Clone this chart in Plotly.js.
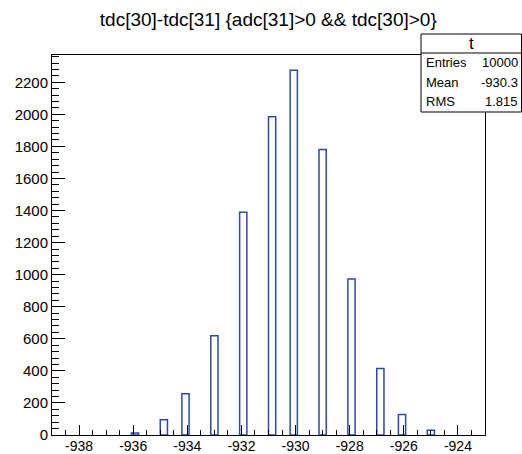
<!DOCTYPE html>
<html><head><meta charset="utf-8">
<script src="https://cdn.plot.ly/plotly-3.0.1.min.js"></script>
<style>html,body{margin:0;padding:0;background:#fff}</style>
</head><body><div id="chart" style="width:522px;height:454px"></div>
<script>
// ---- data ----
const values = [-936, -935, -934, -933, -932, -931, -930, -929, -928, -927, -926, -925];
const counts = [13, 95, 258, 619, 1390, 1985, 2275, 1780, 973, 414, 128, 29];
const xLow = -939, xHigh = -923, nBins = 60;
const xTickVals = [-938, -936, -934, -932, -930, -928, -926, -924];
const xTickText = ['-938', '-936', '-934', '-932', '-930', '-928', '-926', '-924'];
const histName = 't';
const statLabels = ['Entries', 'Mean', 'RMS'];
const statValues = ['10000', '-930.3', '1.815'];
const titleText = 'tdc[30]-tdc[31] {adc[31]>0 && tdc[30]>0}';

// ---- binning (ROOT-style fixed bins) ----
const binW = (xHigh - xLow) / nBins;
const centers = values.map(v => xLow + (Math.floor((v - xLow) / binW + 1e-9) + 0.5) * binW);

// ---- layout helpers (pixel -> paper) ----
const W = 522, H = 454, mL = 52, mR = 37, mT = 55, mB = 19;
const pw = W - mL - mR, ph = H - mT - mB;
const px = x => (x - mL) / pw;
const py = y => (H - mB - y) / ph;

const font = 'Liberation Sans, Arial, Helvetica, sans-serif';
const annotations = [{
  text: histName, xref: 'paper', yref: 'paper', x: px(471), y: py(43.5),
  xanchor: 'center', yanchor: 'middle', showarrow: false, font: {family: font, size: 17, color: '#000'}
}];
statLabels.forEach((lab, i) => {
  const yy = py(63 + i * 19);
  annotations.push({text: lab, xref: 'paper', yref: 'paper', x: px(424), y: yy, xanchor: 'left', yanchor: 'middle',
    showarrow: false, font: {family: font, size: 13, color: '#000'}});
  annotations.push({text: statValues[i], xref: 'paper', yref: 'paper', x: px(520), y: yy, xanchor: 'right', yanchor: 'middle',
    showarrow: false, font: {family: font, size: 13, color: '#000'}});
});

const shapes = [
  {type: 'rect', xref: 'paper', yref: 'paper', x0: px(421), x1: px(521.5), y0: py(112), y1: py(34),
   fillcolor: '#fff', line: {color: '#000', width: 1}, layer: 'above'},
  {type: 'line', xref: 'paper', yref: 'paper', x0: px(421), x1: px(521.5), y0: py(53), y1: py(53),
   line: {color: '#000', width: 1}, layer: 'above'}
];

const trace = {
  type: 'bar', x: centers, y: counts, width: binW,
  marker: {color: 'rgba(0,0,0,0)', line: {color: '#2a4aa8', width: 1.5}},
  hoverinfo: 'x+y'
};

const layout = {
  width: W, height: H,
  margin: {l: mL, r: mR, t: mT, b: mB, pad: 0},
  paper_bgcolor: '#fff', plot_bgcolor: '#fff',
  showlegend: false,
  title: {text: titleText, xref: 'container', yref: 'container', x: 0.514, y: 1 - 19 / H,
          xanchor: 'center', yanchor: 'middle', font: {family: font, size: 19, color: '#000'}},
  xaxis: {
    range: [xLow, xHigh], tickmode: 'array', tickvals: xTickVals, ticktext: xTickText,
    ticks: 'inside', ticklen: 10, tickwidth: 1, tickcolor: '#000',
    minor: {dtick: 0.5, tick0: xLow, ticks: 'inside', ticklen: 5, tickwidth: 1, tickcolor: '#000', showgrid: false},
    showgrid: false, zeroline: false, showline: true, linecolor: '#000', linewidth: 1, mirror: true,
    ticklabelstandoff: -2,
    tickfont: {family: font, size: 14, color: '#000'}, fixedrange: true
  },
  yaxis: {
    range: [0, 2370], dtick: 200, tick0: 0,
    ticks: 'inside', ticklen: 13, tickwidth: 1, tickcolor: '#000',
    minor: {dtick: 40, ticks: 'inside', ticklen: 7, tickwidth: 1, tickcolor: '#000', showgrid: false},
    showgrid: false, zeroline: false, showline: true, linecolor: '#000', linewidth: 1, mirror: true,
    tickfont: {family: font, size: 15, color: '#000'}, fixedrange: true
  },
  bargap: 0,
  annotations: annotations,
  shapes: shapes
};

Plotly.newPlot('chart', [trace], layout, {displayModeBar: false, staticPlot: true});
</script>
</body></html>
